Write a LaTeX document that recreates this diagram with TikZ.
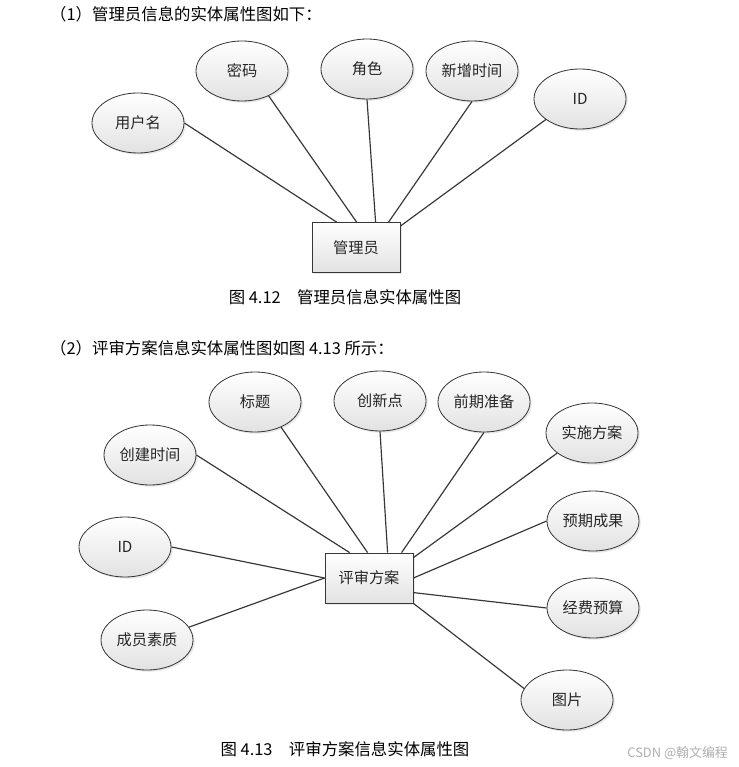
\documentclass[tikz,border=0pt]{standalone}
\usepackage{fontspec}
\setmainfont{Noto Sans CJK SC}
\usetikzlibrary{calc,shapes.geometric,shadows}
\definecolor{myline}{RGB}{55,55,55}
\definecolor{myshade}{RGB}{226,226,226}
\definecolor{mymark}{RGB}{175,175,175}

\begin{document}
\begin{tikzpicture}[
    x=0.03cm,y=-0.03cm,
    attr/.style={ellipse,draw=myline,line width=0.7pt,top color=white,bottom color=myshade,
                 drop shadow={opacity=0.18,shadow xshift=1.5pt,shadow yshift=-1.5pt},
                 font=\fontsize{13}{15}\selectfont,text=black!85,
                 minimum width=2.76cm,minimum height=1.8cm,inner sep=0pt},
    ent/.style={rectangle,draw=myline,line width=0.7pt,top color=white,bottom color=myshade,
                drop shadow={opacity=0.18,shadow xshift=1.5pt,shadow yshift=-1.5pt},
                font=\fontsize{13}{15}\selectfont,text=black!85,
                minimum width=2.64cm,minimum height=1.5cm,inner sep=0pt},
    ttl/.style={anchor=west,font=\fontsize{14}{16}\selectfont,inner sep=0pt},
    figcap/.style={font=\fontsize{14}{16}\selectfont,inner sep=0pt},
    ln/.style={myline,line width=1pt}
  ]
  \path[fill=white] (0,0) rectangle (739,767);
  \useasboundingbox (0,0) rectangle (739,767);

  % admin entity
  \node[ttl] (t1) at (50,14) {（1）管理员信息的实体属性图如下：};
  \node[ent] (mgr) at (356,247.5) {管理员};
  \node[attr] (uname) at (138,123) {用户名};
  \node[attr] (pwd) at (242,71) {密码};
  \node[attr] (role) at (367,69) {角色};
  \node[attr] (addtime) at (472,71) {新增时间};
  \node[attr] (mid) at (580,99) {ID};
  \node[figcap] (c1) at (345,297) {图 4.12\hspace{1em}管理员信息实体属性图};

  \draw[ln] (uname.east) -- ($(mgr.north west)+(25,0)$);
  \draw[ln] (pwd.-43) -- ($(mgr.north west)+(45,0)$);
  \draw[ln] (role.south) -- ($(mgr.north west)+(64,0)$);
  \draw[ln] (addtime.south) -- ($(mgr.north west)+(77,0)$);
  \draw[ln] (mid.211) -- ($(mgr.north east)+(0,4)$);

  % plan entity
  \node[ttl] (t2) at (50,348) {（2）评审方案信息实体属性图如图 4.13 所示：};
  \node[ent] (plan) at (369,578) {评审方案};
  \node[attr] (ctime) at (150,455) {创建时间};
  \node[attr] (title) at (255,402) {标题};
  \node[attr] (innov) at (380,401) {创新点};
  \node[attr] (prep) at (484,402) {前期准备};
  \node[attr] (impl) at (592,433) {实施方案};
  \node[attr] (expect) at (593,521) {预期成果};
  \node[attr] (budget) at (593,608) {经费预算};
  \node[attr] (pic) at (567,700) {图片};
  \node[attr] (pid) at (125,547) {ID};
  \node[attr] (member) at (147,640) {成员素质};
  \node[figcap] (c2) at (345,749) {图 4.13\hspace{1em}评审方案信息实体属性图};

  \draw[ln] (ctime.east) -- ($(plan.north west)+(25,0)$);
  \draw[ln] (title.-44) -- ($(plan.north west)+(43,0)$);
  \draw[ln] (innov.south) -- ($(plan.north west)+(63,0)$);
  \draw[ln] (prep.south) -- ($(plan.north west)+(77,0)$);
  \draw[ln] (impl.210) -- ($(plan.north east)+(0,5)$);
  \draw[ln] (expect.west) -- (plan.east);
  \draw[ln] (budget.west) -- ($(plan.north east)+(0,40)$);
  \draw[ln] (pic.165) -- (plan.south east);
  \draw[ln] (pid.east) -- (plan.west);
  \draw[ln] (member.17) -- (plan.west);

  \node[anchor=east,font=\fontsize{11}{13}\selectfont,text=mymark,inner sep=0pt] (mark) at (728,753) {CSDN @翰文编程};
\end{tikzpicture}
\end{document}
